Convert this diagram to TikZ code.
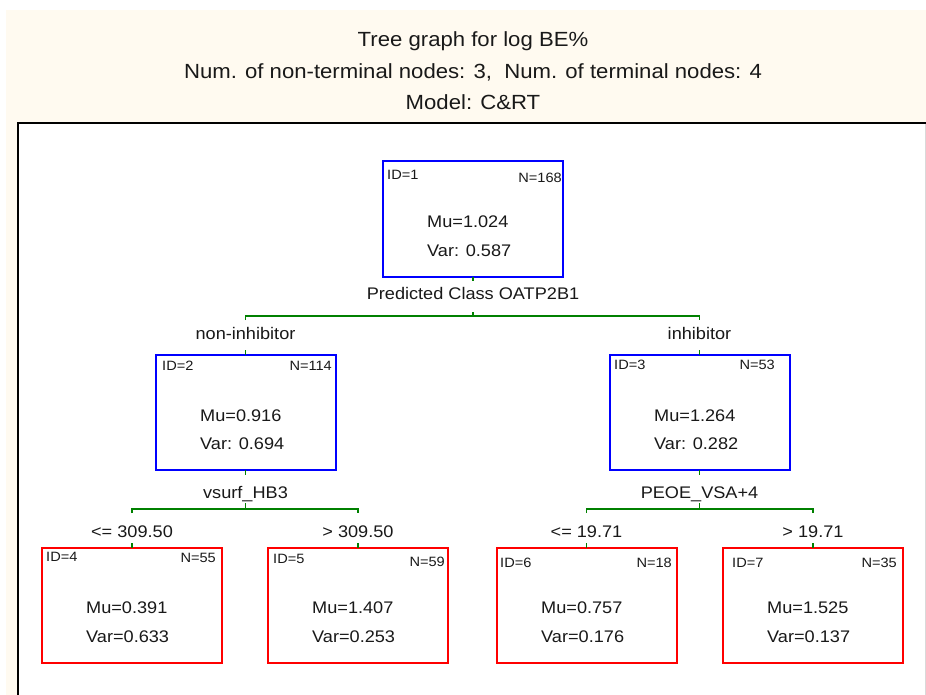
\documentclass[tikz,border=0pt]{standalone}
\usepackage{fontspec}
\setmainfont{Liberation Sans}[FakeStretch=1.08]
\usetikzlibrary{calc}
\definecolor{cream}{RGB}{255,250,240}
\definecolor{txt}{RGB}{25,25,25}
\definecolor{treeblue}{RGB}{0,0,255}
\definecolor{treered}{RGB}{255,0,0}
\definecolor{treegreen}{RGB}{0,128,0}
\begin{document}
\begin{tikzpicture}[x=1pt,y=-1pt,
  nonterm/.style={draw=treeblue,line width=2pt,minimum width=180pt,minimum height=115pt,inner sep=0pt,outer sep=0pt},
  leafbox/.style={draw=treered,line width=2pt,minimum width=180pt,minimum height=115pt,inner sep=0pt,outer sep=0pt},
  small/.style={font=\fontsize{13.5}{16}\selectfont,text=txt,inner sep=0pt},
  body/.style={font=\fontsize{16.8}{20}\selectfont,text=txt,inner sep=0pt,anchor=base west},
  lbl/.style={font=\fontsize{16.8}{20}\selectfont,text=txt,inner sep=0pt,outer sep=0pt,anchor=base},
  titletext/.style={font=\fontsize{20.5}{24}\selectfont,text=txt,inner sep=0pt,anchor=base},
  conn/.style={draw=treegreen,line width=1.5pt}
]
\useasboundingbox (0,0) rectangle (926,695);
\fill[cream] (6,10) rectangle (926,695);
\fill[white] (18,123) rectangle (925,695);
\draw[black,line width=2pt] (18,696) -- (18,123) -- (926,123);
\draw[black!15,line width=1pt] (925,124) -- (925,695);

% titles
\node[titletext] (t1) at (473,46.7) {Tree graph for log BE\%};
\node[titletext] (t2) at (473,78.3) {Num. of non-terminal nodes: 3,\ \ Num. of terminal nodes: 4};
\node[titletext] (t3) at (473,110) {Model: C\&RT};

% boxes
\node[nonterm] (n1) at (473,219) {};
\node[nonterm] (n2) at (245.5,412.5) {};
\node[nonterm] (n3) at (699.5,412.5) {};
\node[leafbox] (n4) at (132,605) {};
\node[leafbox] (n5) at (358,605) {};
\node[leafbox] (n6) at (586.5,605) {};
\node[leafbox] (n7) at (813,605) {};

% ID / N
\node[small,anchor=west] (id1) at (387,175) {ID=1};
\node[small,anchor=east] (nn1) at (562,178) {N=168};
\node[small,anchor=west] (id2) at (162,366) {ID=2};
\node[small,anchor=east] (nn2) at (332,366) {N=114};
\node[small,anchor=west] (id3) at (614,365) {ID=3};
\node[small,anchor=east] (nn3) at (775,365) {N=53};
\node[small,anchor=west] (id4) at (46,557) {ID=4};
\node[small,anchor=east] (nn4) at (216,558) {N=55};
\node[small,anchor=west] (id5) at (273,559) {ID=5};
\node[small,anchor=east] (nn5) at (445,562) {N=59};
\node[small,anchor=west] (id6) at (500,563) {ID=6};
\node[small,anchor=east] (nn6) at (672,563) {N=18};
\node[small,anchor=west] (id7) at (732,563) {ID=7};
\node[small,anchor=east] (nn7) at (897,563) {N=35};

% Mu / Var
\node[body] (mu1) at ($(n1.north west)+(44,66)$) {Mu=1.024};
\node[body] (var1) at ($(n1.north west)+(44,95)$) {Var: 0.587};
\node[body] (mu2) at ($(n2.north west)+(44.5,66)$) {Mu=0.916};
\node[body] (var2) at ($(n2.north west)+(44.5,94)$) {Var: 0.694};
\node[body] (mu3) at ($(n3.north west)+(44.5,66)$) {Mu=1.264};
\node[body] (var3) at ($(n3.north west)+(44.5,94)$) {Var: 0.282};
\node[body] (mu4) at ($(n4.north west)+(44,66)$) {Mu=0.391};
\node[body] (var4) at ($(n4.north west)+(44,95)$) {Var=0.633};
\node[body] (mu5) at ($(n5.north west)+(44,66)$) {Mu=1.407};
\node[body] (var5) at ($(n5.north west)+(44,95)$) {Var=0.253};
\node[body] (mu6) at ($(n6.north west)+(44.5,66)$) {Mu=0.757};
\node[body] (var6) at ($(n6.north west)+(44.5,95)$) {Var=0.176};
\node[body] (mu7) at ($(n7.north west)+(44,66)$) {Mu=1.525};
\node[body] (var7) at ($(n7.north west)+(44,95)$) {Var=0.137};

% split and branch labels
\node[lbl,text height=18pt,text depth=13pt] (s1) at (473,299) {Predicted Class OATP2B1};
\node[lbl,text height=19pt,text depth=11pt] (b2) at (245.5,339) {non-inhibitor};
\node[lbl,text height=19pt,text depth=11pt] (b3) at (699.5,339) {inhibitor};
\node[lbl,text height=23pt,text depth=5pt] (s2) at (245.5,498) {vsurf\_HB3};
\node[lbl,text height=23pt,text depth=5pt] (s3) at (699.5,498) {PEOE\_VSA+4};
\node[lbl,text height=24pt,text depth=6pt] (b4) at (132,537) {<= 309.50};
\node[lbl,text height=24pt,text depth=6pt] (b5) at (358,537) {> 309.50};
\node[lbl,text height=24pt,text depth=6pt] (b6) at (586.5,537) {<= 19.71};
\node[lbl,text height=24pt,text depth=6pt] (b7) at (813,537) {> 19.71};

% junctions
\coordinate (j1) at (473,316);
\coordinate (j1l) at (245.5,316);
\coordinate (j1r) at (699.5,316);
\coordinate (j2) at (245.5,509);
\coordinate (j2l) at (132,509);
\coordinate (j2r) at (358,509);
\coordinate (j3) at (699.5,509);
\coordinate (j3l) at (586.5,509);
\coordinate (j3r) at (813,509);

% connectors
\draw[conn] (n1.south) -- (s1.north);
\draw[conn] (s1.south) -- (j1);
\draw[conn] (b2.north) -- (j1l) -- (j1r) -- (b3.north);
\draw[conn] (b2.south) -- (n2.north);
\draw[conn] (b3.south) -- (n3.north);

\draw[conn] (n2.south) -- (s2.north);
\draw[conn] (s2.south) -- (j2);
\draw[conn] (b4.north) -- (j2l) -- (j2r) -- (b5.north);
\draw[conn] (b4.south) -- (n4.north);
\draw[conn] (b5.south) -- (n5.north);

\draw[conn] (n3.south) -- (s3.north);
\draw[conn] (s3.south) -- (j3);
\draw[conn] (b6.north) -- (j3l) -- (j3r) -- (b7.north);
\draw[conn] (b6.south) -- (n6.north);
\draw[conn] (b7.south) -- (n7.north);
\end{tikzpicture}
\end{document}
